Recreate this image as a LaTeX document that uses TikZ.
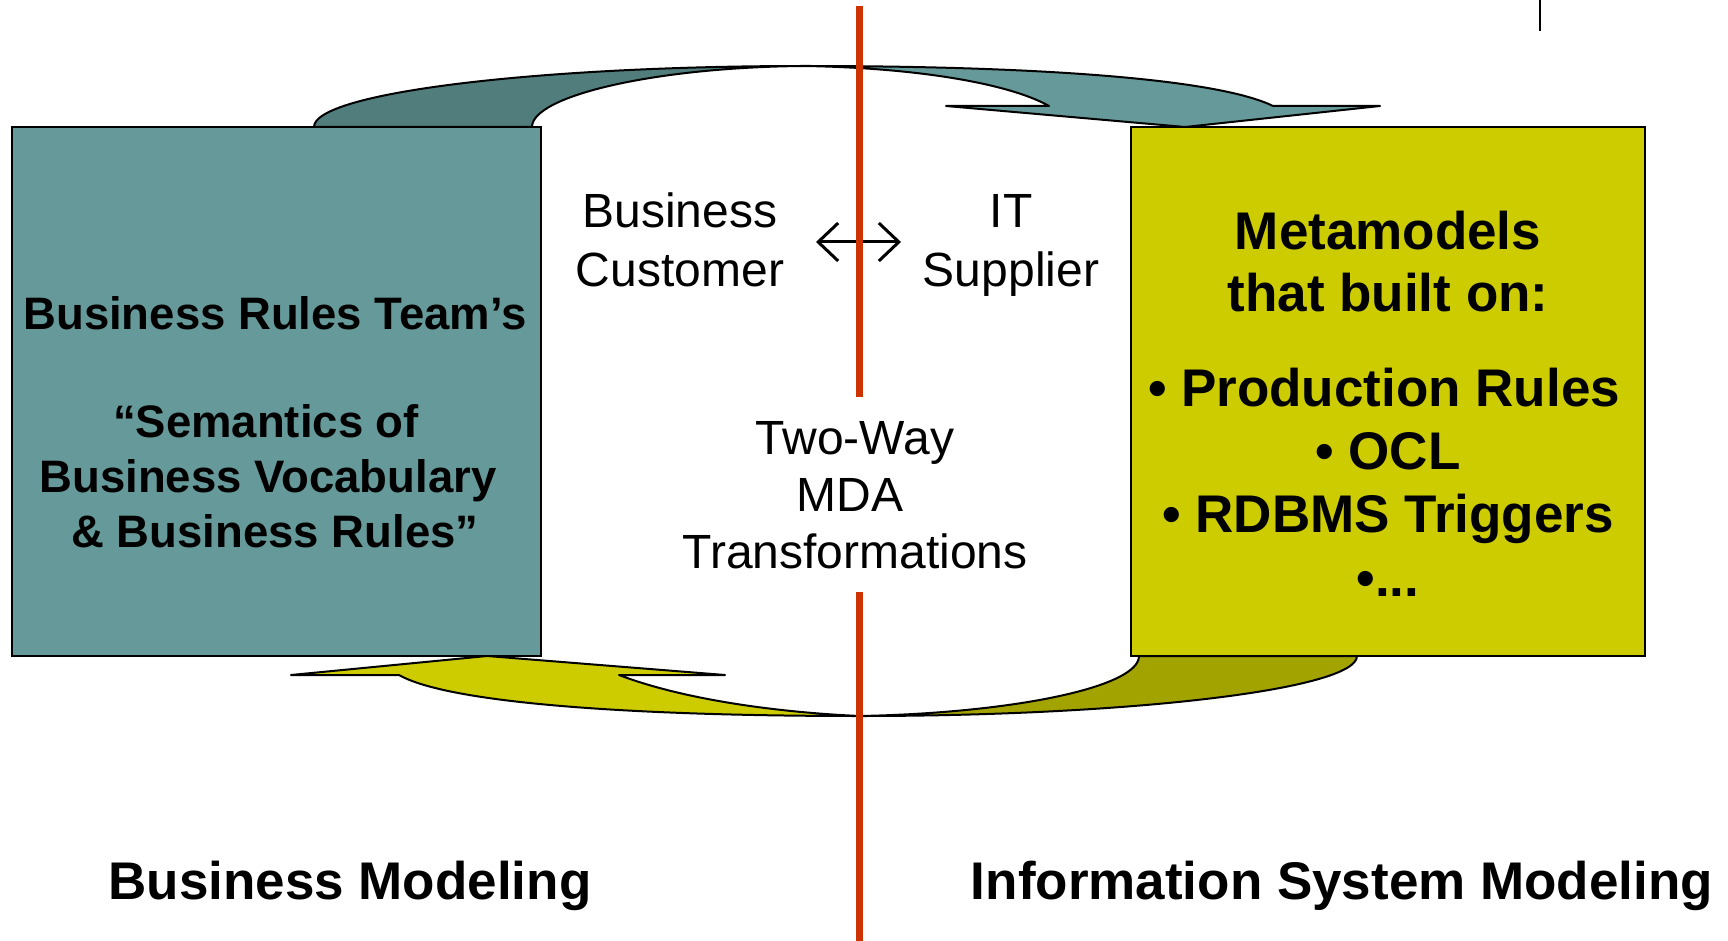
\documentclass[tikz,border=0pt]{standalone}
\usepackage{fontspec}
\setmainfont{Liberation Sans}
\usetikzlibrary{arrows.meta}

\definecolor{tealbox}{HTML}{669999}
\definecolor{tealdark}{HTML}{527D7D}
\definecolor{olivebox}{HTML}{CCCC00}
\definecolor{olivedark}{HTML}{A3A300}
\definecolor{divider}{HTML}{CC3300}

\begin{document}
\begin{tikzpicture}[x=1pt, y=-1pt,
    band/.style={draw=black, line width=2pt, line join=round},
    panel/.style={draw=black, line width=2pt, inner sep=0pt, minimum height=529pt},
    lefttext/.style={anchor=base, font=\bfseries\fontsize{45.5}{54}\selectfont},
    righttext/.style={anchor=base, font=\bfseries\fontsize{53}{64}\selectfont},
    midtext/.style={anchor=base, font=\fontsize{48}{57}\selectfont},
    footer/.style={anchor=base, font=\bfseries\fontsize{53}{64}\selectfont}]
  \useasboundingbox (0,0) rectangle (1728,941);

  % Panels
  \node[panel, fill=tealbox, minimum width=529pt] (bizpanel) at (276.5,391.5) {};
  \node[panel, fill=olivebox, minimum width=514pt] (itpanel) at (1388,391.5) {};

  % Upper curved arrow (back half, then front half with head)
  \filldraw[band, fill=tealdark] (314,127)
    .. controls (314,93) and (535,66) .. (805,66)
    .. controls (655,67) and (532,96) .. (532,127) -- cycle;
  \filldraw[band, fill=tealbox] (805,66)
    .. controls (1050,66) and (1220,80) .. (1273,106)
    -- (1380,106) -- (1185,127) -- (946,106) -- (1049,106)
    .. controls (1010,84) and (920,68) .. (805,66) -- cycle;

  % Lower curved arrow
  \filldraw[band, fill=olivedark] (1357,656)
    .. controls (1357,689) and (1133,716) .. (860,716)
    .. controls (1014,713) and (1139,687) .. (1139,656) -- cycle;
  \filldraw[band, fill=olivebox] (860,716)
    .. controls (640,716) and (450,704) .. (399,675)
    -- (291,675) -- (487,656) -- (725,675) -- (619,675)
    .. controls (690,702) and (790,713) .. (860,716) -- cycle;

  % Customer <-> supplier
  \coordinate (swapL) at (816,242);
  \coordinate (swapR) at (901,242);
  \draw[line width=3pt, {Straight Barb[length=20pt,width=38pt]}-{Straight Barb[length=20pt,width=38pt]}] (swapL) -- (swapR);

  % Dividing line, broken around the caption
  \coordinate (divtop) at (859,6);
  \coordinate (divmidA) at (859,397);
  \coordinate (divmidB) at (859,592);
  \coordinate (divbot) at (859,941);
  \draw[divider, line width=7pt] (divtop) -- (divmidA) (divmidB) -- (divbot);

  % Tick at the top edge
  \coordinate (tickA) at (1540,0);
  \coordinate (tickB) at (1540,31);
  \draw[line width=1.5pt] (tickA) -- (tickB);

  % Left panel text
  \node[lefttext] (brt) at (275,329) {Business Rules Team’s};
  \node[lefttext] (sem) at (266,437) {“Semantics of};
  \node[lefttext] (voc) at (268,492) {Business Vocabulary};
  \node[lefttext] (rul) at (275,547) {\& Business Rules”};

  % Right panel text
  \node[righttext] (meta) at (1388,250) {Metamodels};
  \node[righttext] (built) at (1388,311) {that built on:};
  \node[righttext] (prod) at (1384,406) {• Production Rules};
  \node[righttext] (ocl) at (1388,469) {• OCL};
  \node[righttext] (trig) at (1388,532) {• RDBMS Triggers};
  \node[righttext] (more) at (1388,596) {•...};

  % Middle captions
  \node[midtext] (biz) at (680,228) {Business};
  \node[midtext] (cust) at (680,286) {Customer};
  \node[midtext] (it) at (1011,228) {IT};
  \node[midtext] (supp) at (1011,286) {Supplier};
  \node[midtext] (twoway) at (855,454) {Two-Way};
  \node[midtext] (mda) at (850,511) {MDA};
  \node[midtext] (trans) at (855,568) {Transformations};

  % Footers
  \node[footer] (bizmod) at (350,899) {Business Modeling};
  \node[footer] (ismod) at (1342,899) {Information System Modeling};
\end{tikzpicture}
\end{document}
